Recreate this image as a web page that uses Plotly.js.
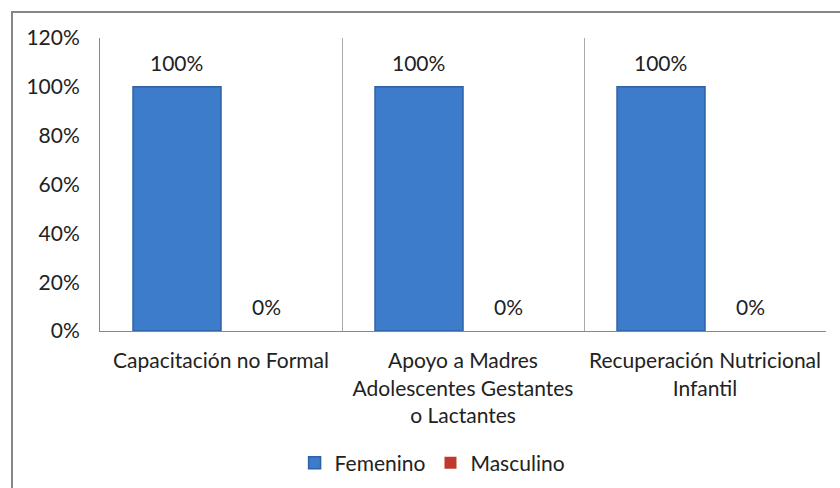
<!DOCTYPE html>
<html>
<head>
<meta charset="utf-8">
<script src="https://cdn.plot.ly/plotly-3.0.1.min.js"></script>
<style>
  html, body { margin:0; padding:0; background:#fff; }
  #wrap { position:relative; width:840px; height:488px; overflow:hidden; }
  #chart { position:absolute; left:0; top:0; width:840px; height:488px; }
  #frame { position:absolute; left:11px; top:11px; width:900px; height:600px;
           border-left:2px solid #878787; border-top:2px solid #878787; pointer-events:none; }
</style>
</head>
<body>
<div id="wrap">
  <div id="chart"></div>
  <div id="frame"></div>
</div>
<script>
const categories = [
  "Capacitación no Formal",
  "Apoyo a Madres<br>Adolescentes Gestantes<br>o Lactantes",
  "Recuperación Nutricional<br>Infantil"
];
const seriesNames = ["Femenino", "Masculino"];
const femenino = [1, 1, 1];
const masculino = [0, 0, 0];
const yTickVals = [0, 0.2, 0.4, 0.6, 0.8, 1.0, 1.2];

const FONT = "Lato, 'Open Sans', sans-serif";
const TXT = "#222222";
const FS = 21;

const traces = [
  { type: "bar", name: seriesNames[0], x: categories, y: femenino,
    marker: { color: "#3d7bcb", line: { color: "#2d62a6", width: 1.5 } }, hoverinfo: "skip" },
  { type: "bar", name: seriesNames[1], x: categories, y: masculino,
    marker: { color: "#c0392f", line: { color: "#9c2b24", width: 0 } }, hoverinfo: "skip" }
];

const fmt = v => Math.round(v * 100) + "%";
const annotations = [];
[femenino, masculino].forEach((vals, si) => {
  vals.forEach((v, i) => {
    annotations.push({
      x: categories[i], y: v, xref: "x", yref: "y",
      text: fmt(v), showarrow: false,
      xshift: si === 0 ? -45 : 45, yshift: 10, yanchor: "bottom",
      font: { family: FONT, size: FS, color: TXT }
    });
  });
});

const layout = {
  width: 840, height: 488,
  margin: { l: 100, r: 14, t: 38, b: 157 },
  paper_bgcolor: "rgba(0,0,0,0)", plot_bgcolor: "#fff",
  barmode: "group", bargap: 0.273, bargroupgap: 0,
  font: { family: FONT, size: FS, color: TXT },
  showlegend: true,
  legend: { orientation: "h", x: 0.515, xref: "container", xanchor: "center",
            y: 0.051, yref: "container", yanchor: "middle",
            font: { family: FONT, size: FS, color: TXT } },
  xaxis: { type: "category", showline: true, linecolor: "#878787", linewidth: 1,
           showgrid: true, gridcolor: "#aaaaaa", gridwidth: 1, tickson: "boundaries",
           ticks: "", tickangle: 0, ticklabelstandoff: 11,
           tickfont: { family: FONT, size: FS, color: TXT }, fixedrange: true },
  yaxis: { range: [0, 1.2], tickvals: yTickVals, tickformat: ".0%", showline: true,
           linecolor: "#878787", linewidth: 1, showgrid: false, zeroline: false,
           ticks: "", ticklabelstandoff: 15,
           tickfont: { family: FONT, size: FS, color: TXT }, fixedrange: true },
  annotations: annotations
};

Plotly.newPlot("chart", traces, layout, { displayModeBar: false, staticPlot: true });
</script>
</body>
</html>
